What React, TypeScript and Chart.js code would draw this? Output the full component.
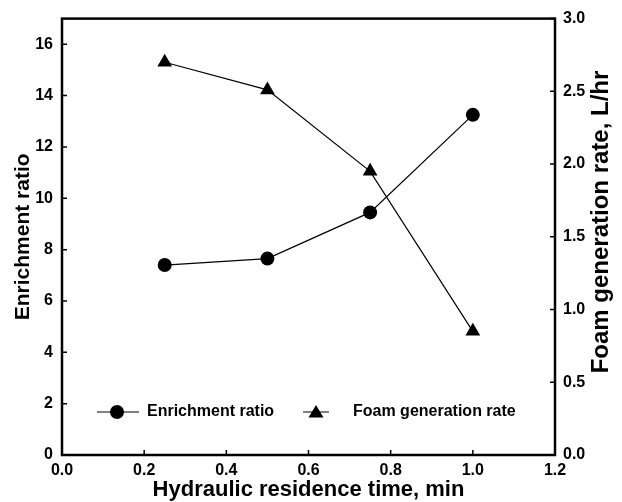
import React, { useEffect, useRef } from "react";
import { Chart, registerables } from "chart.js";

Chart.register(...registerables);

const residenceTime = [0.25, 0.5, 0.75, 1.0];
const enrichmentRatio = [7.4, 7.65, 9.45, 13.25];
const foamRate = [2.7, 2.51, 1.95, 0.85];
const xTicks = [0, 0.2, 0.4, 0.6, 0.8, 1.0, 1.2];
const yTicks = [0, 2, 4, 6, 8, 10, 12, 14, 16];
const y1Ticks = [0, 0.5, 1.0, 1.5, 2.0, 2.5, 3.0];

const FONT = "'Liberation Sans', Arial, sans-serif";

const framePlugin = {
  id: "frame",
  afterDraw(chart: any) {
    const { ctx, chartArea: a, scales } = chart;
    ctx.save();
    ctx.strokeStyle = "#000";
    ctx.lineWidth = 2.5;
    ctx.strokeRect(a.left, a.top, a.right - a.left, a.bottom - a.top);
    ctx.lineWidth = 1.5;
    const tl = 5;
    ctx.beginPath();
    for (const v of xTicks) {
      const x = scales.x.getPixelForValue(v);
      ctx.moveTo(x, a.bottom);
      ctx.lineTo(x, a.bottom - tl);
    }
    for (const v of yTicks) {
      const y = scales.y.getPixelForValue(v);
      ctx.moveTo(a.left, y);
      ctx.lineTo(a.left + tl, y);
    }
    for (const v of y1Ticks) {
      const y = scales.y1.getPixelForValue(v);
      ctx.moveTo(a.right, y);
      ctx.lineTo(a.right - tl, y);
    }
    ctx.stroke();

    ctx.fillStyle = "#000";
    ctx.textAlign = "center";
    ctx.textBaseline = "middle";

    // x axis title
    ctx.font = `bold 22px ${FONT}`;
    ctx.fillText("Hydraulic residence time, min", (a.left + a.right) / 2, 490);

    // left axis title
    ctx.save();
    ctx.translate(23, (a.top + a.bottom) / 2);
    ctx.rotate(-Math.PI / 2);
    ctx.font = `bold 21px ${FONT}`;
    ctx.fillText("Enrichment ratio", 0, 0);
    ctx.restore();

    // right axis title (reads bottom to top)
    ctx.save();
    ctx.translate(601, 222);
    ctx.rotate(-Math.PI / 2);
    ctx.font = `bold 24px ${FONT}`;
    ctx.fillText("Foam generation rate, L/hr", 0, 0);
    ctx.restore();

    // legend
    const ly = 412;
    ctx.lineWidth = 1;
    ctx.beginPath();
    ctx.moveTo(97, ly);
    ctx.lineTo(139, ly);
    ctx.moveTo(303, ly);
    ctx.lineTo(329, ly);
    ctx.stroke();
    ctx.beginPath();
    ctx.arc(117, ly, 7, 0, Math.PI * 2);
    ctx.fill();
    ctx.beginPath();
    ctx.moveTo(316, ly - 7);
    ctx.lineTo(323.5, ly + 5.5);
    ctx.lineTo(308.5, ly + 5.5);
    ctx.closePath();
    ctx.fill();
    ctx.font = `bold 16px ${FONT}`;
    ctx.textAlign = "left";
    ctx.fillText("Enrichment ratio", 147, ly);
    ctx.fillText("Foam generation rate", 353, ly);
    ctx.restore();
  },
};

export default function App() {
  const ref = useRef<HTMLCanvasElement>(null);
  useEffect(() => {
    const chart = new Chart(ref.current!, {
      type: "line",
      data: {
        datasets: [
          {
            label: "Enrichment ratio",
            data: residenceTime.map((x, i) => ({ x, y: enrichmentRatio[i] })),
            yAxisID: "y",
            borderColor: "#000",
            backgroundColor: "#000",
            borderWidth: 1.2,
            pointStyle: "circle",
            pointRadius: 7,
            pointBorderWidth: 0,
          },
          {
            label: "Foam generation rate",
            data: residenceTime.map((x, i) => ({ x, y: foamRate[i] })),
            yAxisID: "y1",
            borderColor: "#000",
            backgroundColor: "#000",
            borderWidth: 1.2,
            pointStyle: "triangle",
            pointRadius: 8.5,
            pointBorderWidth: 0,
          },
        ],
      },
      options: {
        animation: false,
        responsive: false,
        layout: { padding: { top: 15, left: 0, right: 0, bottom: 0 } },
        plugins: { legend: { display: false }, tooltip: { enabled: false } },
        scales: {
          x: {
            type: "linear",
            min: 0,
            max: 1.2,
            afterFit: (s: any) => { s.height = 47; },
            afterBuildTicks: (s: any) => { s.ticks = xTicks.map((v) => ({ value: v })); },
            grid: { display: false, drawTicks: false },
            border: { display: false },
            ticks: {
              padding: 6,
              color: "#000",
              font: { family: FONT, weight: "bold", size: 16 },
              callback: (v: any) => Number(v).toFixed(1),
            },
          },
          y: {
            type: "linear",
            position: "left",
            min: 0,
            max: 17,
            afterFit: (s: any) => { s.width = 62; },
            afterBuildTicks: (s: any) => { s.ticks = yTicks.map((v) => ({ value: v })); },
            grid: { display: false, drawTicks: false },
            border: { display: false },
            ticks: {
              padding: 9,
              color: "#000",
              font: { family: FONT, weight: "bold", size: 16 },
              callback: (v: any) => String(v),
            },
          },
          y1: {
            type: "linear",
            position: "right",
            min: 0,
            max: 3.0,
            afterFit: (s: any) => { s.width = 67; },
            afterBuildTicks: (s: any) => { s.ticks = y1Ticks.map((v) => ({ value: v })); },
            grid: { display: false, drawTicks: false },
            border: { display: false },
            ticks: {
              padding: 8,
              color: "#000",
              font: { family: FONT, weight: "bold", size: 16 },
              callback: (v: any) => Number(v).toFixed(1),
            },
          },
        },
      },
      plugins: [framePlugin],
    } as any);
    return () => chart.destroy();
  }, []);
  return (
    <div style={{ position: "fixed", left: 0, top: 0, width: 622, height: 502, background: "#fff" }}>
      <canvas ref={ref} width={622} height={502} style={{ width: 622, height: 502, display: "block" }} />
    </div>
  );
}
